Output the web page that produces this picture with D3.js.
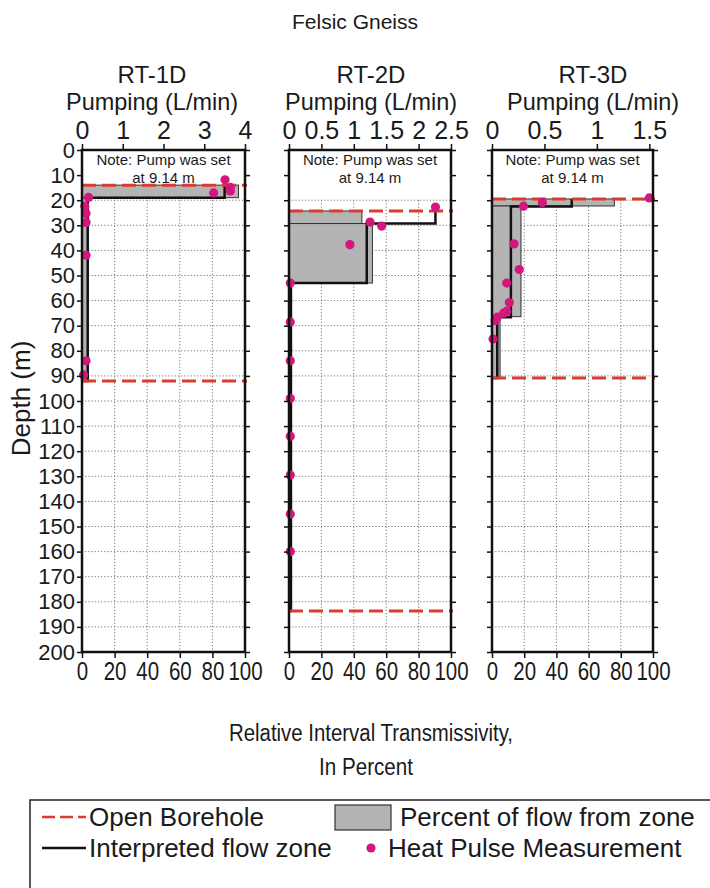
<!DOCTYPE html>
<html><head><meta charset="utf-8">
<script src="https://cdn.jsdelivr.net/npm/d3@7/dist/d3.min.js"></script>
<style>
body{margin:0;background:#fff}
text{font-family:"Liberation Sans",Arial,Helvetica,sans-serif;fill:#1a1a1a}
</style>
</head><body>
<svg id="c" width="710" height="888"></svg>
<script>
// ---------------- data ----------------
const wells = ["RT-1D", "RT-2D", "RT-3D"];
const pumpMax = [4, 2.5, 1.535];
const pumpTicks = [[0, 1, 2, 3, 4], [0, 0.5, 1, 1.5, 2, 2.5], [0, 0.5, 1, 1.5]];
const depthTicks = d3.range(0, 201, 10);
const pctTicks = [0, 20, 40, 60, 80, 100];
const boreholeTop = [14, 24.3, 19.5];
const boreholeBottom = [92, 183.7, 90.8];
// percent of flow from zone: [top depth, bottom depth, percent]
const flowPct1 = [[14, 19, 96], [19, 92, 3.5]];
const flowPct2 = [[24.3, 29.3, 45], [29.3, 53, 51.5], [53, 183.7, 1.5]];
const flowPct3 = [[19.5, 22.3, 76], [22.3, 66.4, 18], [66.4, 90.8, 5]];
// interpreted flow zone: [depth, L/min]
const interp1 = [[14, 3.5], [19, 3.5], [19, 0.14], [92, 0.14], [92, 0]];
const interp2 = [[24.3, 2.26], [29.3, 2.26], [29.3, 1.2], [53, 1.2], [53, 0.03], [183.7, 0.03], [183.7, 0]];
const interp3 = [[19.5, 0.76], [22.5, 0.76], [22.5, 0.18], [66.6, 0.18], [66.6, 0.05], [90.8, 0.05], [90.8, 0]];
// heat pulse measurements: [depth, L/min]
const dots1 = [[11.9, 3.51], [14.9, 3.64], [16.3, 3.64], [17.1, 3.23], [18.9, 0.16], [22.4, 0.07], [25.3, 0.1], [28.9, 0.1], [41.9, 0.1], [84, 0.1], [89.6, 0.04]];
const dots2 = [[22.7, 2.26], [28.7, 1.25], [30.3, 1.43], [37.7, 0.94], [53, 0.02], [68.5, 0.02], [84, 0.02], [99, 0.02], [114, 0.02], [129.5, 0.02], [145, 0.02], [160, 0.02]];
const dots3 = [[19.1, 1.5], [20.9, 0.48], [22.4, 0.3], [37.4, 0.21], [47.6, 0.26], [53, 0.14], [60.8, 0.165], [64.2, 0.14], [65, 0.11], [66.6, 0.05], [68, 0.03], [75.3, 0.01]];
const flowPct = [flowPct1, flowPct2, flowPct3];
const interp = [interp1, interp2, interp3];
const dots = [dots1, dots2, dots3];

// ---------------- layout ----------------
const svg = d3.select("#c");
const panelX = [[82, 245], [289, 451], [492, 653]];
const titleX = [152, 371, 593];
const y = d3.scaleLinear().domain([0, 200]).range([150, 652]);
const RED = "#dc3b30", GRAY = "#b4b4b4", DOT = "#d4177f";

svg.append("text").attr("x", 355).attr("y", 29).attr("text-anchor", "middle")
  .attr("font-size", 21).text("Felsic Gneiss");

wells.forEach((w, i) => {
  const [x0, x1] = panelX[i];
  const xp = d3.scaleLinear().domain([0, 100]).range([x0, x1]);
  const xq = d3.scaleLinear().domain([0, pumpMax[i]]).range([x0, x1]);
  const g = svg.append("g");

  g.append("text").attr("x", titleX[i]).attr("y", 83).attr("text-anchor", "middle")
    .attr("font-size", 24).text(w);
  g.append("text").attr("x", titleX[i]).attr("y", 110).attr("text-anchor", "middle")
    .attr("font-size", 24).attr("textLength", 172).attr("lengthAdjust", "spacingAndGlyphs")
    .text("Pumping (L/min)");

  // grid (below the note area)
  const grid = g.append("g").attr("stroke", "#777").attr("stroke-width", 1)
    .attr("stroke-dasharray", "1.2,2");
  grid.selectAll("line.h").data(depthTicks.filter(d => d >= 20 && d < 200)).join("line")
    .attr("x1", x0).attr("x2", x1).attr("y1", d => y(d)).attr("y2", d => y(d));
  grid.selectAll("line.v").data(pctTicks.filter(d => d > 0 && d < 100)).join("line")
    .attr("class", "v").attr("x1", d => xp(d)).attr("x2", d => xp(d))
    .attr("y1", y(20)).attr("y2", y(200));

  // note
  const cx = (x0 + x1) / 2;
  g.append("text").attr("x", cx).attr("y", 165).attr("text-anchor", "middle")
    .attr("font-size", 15).text("Note: Pump was set");
  g.append("text").attr("x", cx).attr("y", 183).attr("text-anchor", "middle")
    .attr("font-size", 15).text("at 9.14 m");

  // percent of flow from zone
  g.selectAll("rect.pct").data(flowPct[i]).join("rect")
    .attr("x", x0).attr("y", d => y(d[0]))
    .attr("width", d => xp(d[2]) - x0).attr("height", d => y(d[1]) - y(d[0]))
    .attr("fill", GRAY).attr("stroke", "#333").attr("stroke-width", 1);

  // interpreted flow zone
  const line = d3.line().x(d => xq(d[1])).y(d => y(d[0]));
  g.append("path").attr("d", line(interp[i])).attr("fill", "none")
    .attr("stroke", "#111").attr("stroke-width", 2.5);

  // open borehole
  [boreholeTop[i], boreholeBottom[i]].forEach(d => {
    g.append("line").attr("x1", x0).attr("x2", x1 + 2).attr("y1", y(d)).attr("y2", y(d))
      .attr("stroke", RED).attr("stroke-width", 3).attr("stroke-dasharray", "14,6");
  });

  // heat pulse dots
  g.selectAll("circle").data(dots[i]).join("circle")
    .attr("cx", d => xq(d[1])).attr("cy", d => y(d[0])).attr("r", 4.6)
    .attr("fill", DOT);

  // axes
  const top = g.append("g").attr("transform", `translate(0,${y(0)})`)
    .call(d3.axisTop(xq).tickValues(pumpTicks[i]).tickSize(6).tickPadding(5)
      .tickFormat(d3.format("")));
  const bottom = g.append("g").attr("transform", `translate(0,${y(200)})`)
    .call(d3.axisBottom(xp).tickValues(pctTicks).tickSize(6).tickPadding(4));
  const left = g.append("g").attr("transform", `translate(${x0},0)`)
    .call(d3.axisLeft(y).tickValues(depthTicks).tickSize(5).tickPadding(2)
      .tickFormat(i === 0 ? d3.format("") : () => ""));
  const right = g.append("g").attr("transform", `translate(${x1},0)`)
    .call(d3.axisRight(y).tickValues(depthTicks).tickSize(5).tickFormat(() => ""));
  [top, bottom, left, right].forEach(a => {
    a.select(".domain").remove();
    a.selectAll(".tick line").attr("stroke", "#111").attr("stroke-width", 1.5);
    a.selectAll("text").attr("font-size", 25).attr("fill", "#1a1a1a")
      .attr("font-family", '"Liberation Sans",Arial,sans-serif');
  });
  left.selectAll("text").attr("font-size", 22);
  bottom.selectAll("text").attr("transform", "scale(0.82,1)");

  // frame
  g.append("rect").attr("x", x0).attr("y", y(0)).attr("width", x1 - x0)
    .attr("height", y(200) - y(0)).attr("fill", "none")
    .attr("stroke", "#111").attr("stroke-width", 2.5);
});

// axis titles
svg.append("text").attr("transform", `translate(30,${y(99)}) rotate(-90)`)
  .attr("text-anchor", "middle").attr("font-size", 26).text("Depth (m)");
svg.append("text").attr("x", 371).attr("y", 741).attr("text-anchor", "middle")
  .attr("font-size", 23).attr("textLength", 284).attr("lengthAdjust", "spacingAndGlyphs")
  .text("Relative Interval Transmissivity,");
svg.append("text").attr("x", 366).attr("y", 775).attr("text-anchor", "middle")
  .attr("font-size", 23).attr("textLength", 94).attr("lengthAdjust", "spacingAndGlyphs")
  .text("In Percent");

// legend
const lg = svg.append("g");
lg.append("rect").attr("x", 30).attr("y", 800).attr("width", 700).attr("height", 110)
  .attr("fill", "none").attr("stroke", "#222").attr("stroke-width", 1.5);
const r1 = 817, r2 = 848, LF = 26;
lg.append("line").attr("x1", 42).attr("x2", 86).attr("y1", r1).attr("y2", r1)
  .attr("stroke", RED).attr("stroke-width", 2.5).attr("stroke-dasharray", "13,5");
lg.append("text").attr("x", 89).attr("y", r1 + 9).attr("font-size", LF).text("Open Borehole");
lg.append("line").attr("x1", 42).attr("x2", 86).attr("y1", r2).attr("y2", r2)
  .attr("stroke", "#111").attr("stroke-width", 2.5);
lg.append("text").attr("x", 89).attr("y", r2 + 9).attr("font-size", LF).text("Interpreted flow zone");
lg.append("rect").attr("x", 335).attr("y", r1 - 12).attr("width", 56).attr("height", 25)
  .attr("fill", GRAY).attr("stroke", "#333").attr("stroke-width", 1.2);
lg.append("text").attr("x", 400).attr("y", r1 + 9).attr("font-size", LF).text("Percent of flow from zone");
lg.append("circle").attr("cx", 371).attr("cy", r2).attr("r", 4.6).attr("fill", DOT);
lg.append("text").attr("x", 388).attr("y", r2 + 9).attr("font-size", LF).text("Heat Pulse Measurement");
</script>
</body></html>
